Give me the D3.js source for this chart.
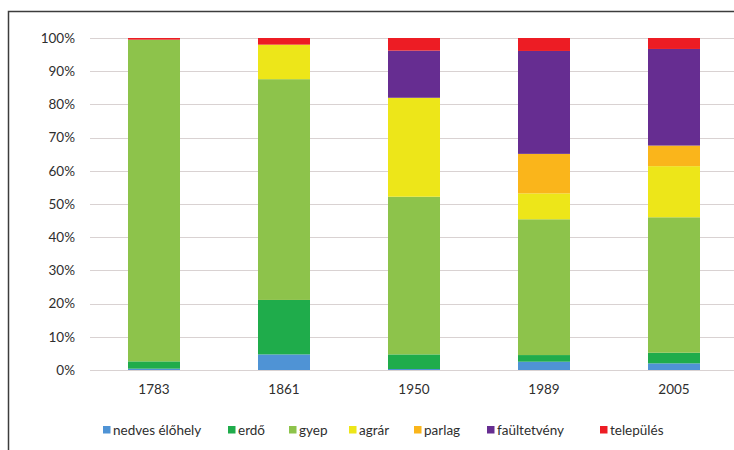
<!DOCTYPE html>
<html>
<head>
<meta charset="utf-8">
<script src="https://cdn.jsdelivr.net/npm/d3@7"></script>
<style>
  html, body { margin: 0; padding: 0; background: #fff; }
  svg { display: block; }
  text { font-family: Lato, "Open Sans", sans-serif; fill: #2e2e2e; }
</style>
</head>
<body>
<svg id="chart" width="734" height="450"></svg>
<script>
// Land-use shares (%) per survey year
const years = ["1783", "1861", "1950", "1989", "2005"];
const categories = ["nedves élőhely", "erdő", "gyep", "agrár", "parlag", "faültetvény", "település"];
const nedves      = [0.4, 4.7, 0.3, 2.5, 2.0];
const erdo        = [2.2, 16.4, 4.4, 2.0, 3.2];
const gyep        = [96.9, 66.5, 47.5, 40.9, 40.8];
const agrar       = [0, 10.4, 29.8, 7.8, 15.4];
const parlag      = [0, 0, 0, 11.9, 6.2];
const faultetveny = [0, 0, 14.2, 31.0, 29.1];
const telepules   = [0.5, 2.0, 3.8, 3.9, 3.3];
const yTicks = [0, 0.1, 0.2, 0.3, 0.4, 0.5, 0.6, 0.7, 0.8, 0.9, 1.0];

const colors = ["#4f93d5", "#1fac4b", "#8dc34b", "#ede619", "#fab51b", "#662d91", "#ed1c24"];
const seriesValues = [nedves, erdo, gyep, agrar, parlag, faultetveny, telepules];

const rows = years.map((y, i) => {
  const r = { year: y };
  categories.forEach((c, k) => { r[c] = seriesValues[k][i] / 100; });
  return r;
});

const svg = d3.select("#chart");

// outer frame
svg.append("rect")
  .attr("x", 8.5).attr("y", 11.5)
  .attr("width", 760).attr("height", 460)
  .attr("fill", "none").attr("stroke", "#3c3c3c").attr("stroke-width", 1.5);

const x = d3.scaleBand().domain(years).range([89, 739]).paddingInner(0.6).paddingOuter(0.3);
const y = d3.scaleLinear().domain([0, 1]).range([370, 38]);
const color = d3.scaleOrdinal().domain(categories).range(colors);

// gridlines
svg.append("g").selectAll("line").data(yTicks).join("line")
  .attr("x1", 90).attr("x2", 734)
  .attr("y1", d => Math.round(y(d)) + 0.5).attr("y2", d => Math.round(y(d)) + 0.5)
  .attr("stroke", "#d9d2d2").attr("stroke-width", 1);

// y axis labels
const yAxis = d3.axisLeft(y).tickValues(yTicks).tickFormat(d3.format(".0%")).tickSize(0).tickPadding(0);
const gy = svg.append("g").attr("transform", "translate(75,0)").call(yAxis);
gy.select(".domain").remove();
gy.selectAll("text").style("font-size", "13.5px").attr("fill", "#2e2e2e").style("font-family", "Lato, sans-serif");

// stacked bars
const stack = d3.stack().keys(categories)(rows);
svg.append("g").selectAll("g").data(stack).join("g")
  .attr("fill", d => color(d.key))
  .selectAll("rect").data(d => d).join("rect")
  .attr("x", d => x(d.data.year))
  .attr("width", x.bandwidth())
  .attr("y", d => y(d[1]))
  .attr("height", d => Math.max(0, y(d[0]) - y(d[1])));

// x axis labels
const xAxis = d3.axisBottom(x).tickSize(0).tickPadding(0);
const gx = svg.append("g").attr("transform", "translate(0,384)").call(xAxis);
gx.select(".domain").remove();
gx.selectAll("text").style("font-size", "13.5px").attr("fill", "#2e2e2e").style("font-family", "Lato, sans-serif");

// legend
const legendX = [103, 228, 289, 349, 414, 487, 600];
const legend = svg.append("g").selectAll("g").data(categories).join("g")
  .attr("transform", (d, i) => `translate(${legendX[i]},430)`);
legend.append("rect").attr("x", 0).attr("y", -4).attr("width", 7.5).attr("height", 7.5)
  .attr("fill", d => color(d));
legend.append("text").attr("x", 10).attr("y", 0).attr("dy", "0.35em")
  .style("font-size", "13.5px").text(d => d);
</script>
</body>
</html>
